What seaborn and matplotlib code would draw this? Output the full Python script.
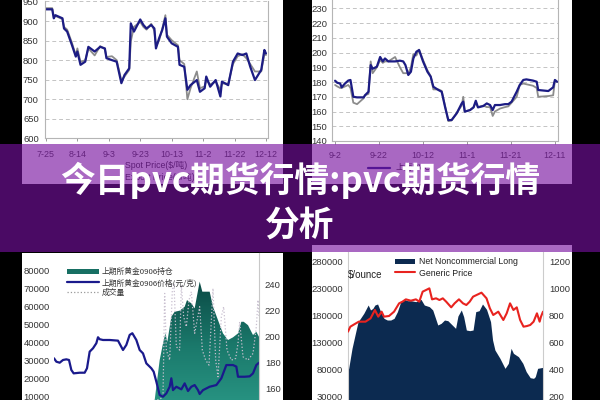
import numpy as np
import matplotlib
matplotlib.use("Agg")
import matplotlib.pyplot as plt
from matplotlib.patches import Rectangle
from matplotlib.lines import Line2D
from matplotlib.colors import LinearSegmentedColormap
import seaborn as sns

# ---- top left: spot price ($/吨), two series ----
tl_days = [0, 4, 5, 6, 10.5, 11.5, 13.5, 16.5, 19, 20, 22, 25, 27, 31, 34.5, 37.5, 38.5, 42, 45, 48,
           50, 53, 54, 56, 60, 62, 64, 67, 69, 70, 72, 74, 76, 77, 80, 84, 85, 88, 90, 92,
           96, 98, 101, 102, 104.5, 108, 111, 112, 116, 119, 122, 125, 127.5, 130, 133, 137, 139, 140]
tl_blue = [930, 930, 907, 915, 907, 881, 873, 839, 809, 822, 788, 796, 834, 822, 834, 830, 805, 800, 796, 741,
           762, 779, 894, 873, 904, 890, 881, 890, 881, 830, 856, 877, 907, 860, 843, 834, 788, 783, 724, 736,
           749, 719, 728, 758, 732, 749, 707, 745, 736, 796, 817, 813, 817, 783, 749, 775, 826, 817]
tl_gray = [933, 933, 910, 913, 905, 885, 878, 845, 812, 830, 795, 800, 830, 812, 836, 828, 808, 810, 800, 748,
           758, 775, 848, 885, 898, 885, 878, 893, 875, 835, 850, 880, 915, 865, 851, 838, 800, 790, 700, 728,
           771, 728, 733, 748, 738, 745, 724, 740, 740, 790, 810, 815, 805, 790, 771, 771, 815, 813]
tl_tick_days = [0, 20, 40, 60, 80, 100, 120, 140]
tl_tick_labels = ['7-25', '8-14', '9-3', '9-23', '10-13', '11-2', '11-22', '12-12']

# ---- top right ----
tr_days = [0, 1, 2.3, 3, 4.5, 6, 7, 8.3, 10, 13, 13.6, 15.2, 16.2, 17.1, 19, 20.5, 21.7, 22.7, 24.2, 27.3,
           29.5, 31, 32, 33.3, 34.5, 35.6, 37, 38.2, 40, 42, 43.5, 44.7, 47, 48.5, 50, 51.5, 53, 55.3, 57.6, 58.3,
           59, 61.4, 63, 64, 65, 67.4, 69, 70.5, 71.7, 72.7, 75, 77.3, 78.8, 80.3, 82.6, 84, 85.6, 87, 90, 91.7,
           92.4, 97, 99.2, 100, 101]
tr_blue = [180.9, 179.5, 179, 176.4, 179, 181, 181.4, 170, 169.6, 169.6, 171, 173.4, 191.5, 189, 190.4, 197, 194, 196, 194, 194,
           194.5, 194, 191.5, 184.8, 187, 196, 200.6, 201.7, 194, 187, 183.6, 176.8, 174.6, 173.4, 163.3, 154.2, 154.2, 158.7, 165.5, 166.7,
           159.9, 161, 162.8, 167.3, 162.8, 163.7, 165.5, 164.4, 161, 164.4, 164.4, 165, 165, 166.7, 173.4, 178, 181.4, 181.8, 181, 180.2,
           174.6, 173.9, 176.4, 181.4, 180.2]
tr_gray = [178, 177, 176, 176, 177, 178, 176, 166, 165, 169, 171, 172, 194, 186, 190, 195, 193, 194, 194, 197,
           190, 186, 186, 186, 190, 199, 198, 202, 195, 188, 184, 175, 175, 174, 164, 153.5, 154, 159, 164, 170,
           160, 161, 163, 166, 163, 164, 163, 163, 157, 160, 162, 163, 163.5, 166, 170, 178, 179, 178.5, 177.5, 176,
           170, 170.5, 171, 181, 180]
tr_tick_days = [0, 20, 40, 60, 80, 100]
tr_tick_labels = ['9-2', '9-22', '10-12', '11-1', '11-21', '12-11']

# ---- bottom left: 上期所黄金0906 ----
bl_price_x = [0, 1.4, 3.4, 5.4, 7.4, 9, 10.4, 11.8, 15.4, 18.4, 19.8, 21.4, 23.4, 25.4, 26.4, 27.4, 29.4, 33.4, 38.4, 41.4,
              43.4, 45.4, 47, 49.4, 51.4, 53.4, 55.4, 58.4, 59.8, 61.4, 63.4, 65.4, 67.4, 69.4, 70.4, 71.4, 73.4, 76.4, 78.4, 80.4,
              82.4, 84.4, 86.4, 87.4, 89.4, 93.4, 97.4, 100.4, 103.4, 107.4, 109.4, 110.4, 114.4, 117.4, 119.4, 121.4, 123]
bl_price = [182.9, 180.3, 179.5, 181.6, 182.1, 181.6, 173.9, 171.3, 171.8, 171.8, 175.2, 188, 190.6, 194.5, 199.1, 197.6, 197, 197, 196.5, 189.3,
            193.2, 200.9, 202.2, 197, 189.3, 186.7, 179, 175.2, 172.6, 164.9, 154.6, 153.3, 155.9, 161, 167.5, 158.4, 161, 159, 163.6, 157.7,
            161, 162.3, 158.4, 155.4, 158.4, 161, 162.3, 167.5, 177.7, 177.7, 176.5, 168.7, 168.7, 169, 171.3, 177.7, 179.5]
bl_oi_x = [60, 60.4, 63.4, 65.4, 66.8, 68, 70.4, 72.4, 75.4, 78.4, 79.8, 82.4, 84.4, 87.4, 89, 93.4, 95.4, 98.4, 101.4, 104.4,
           107.4, 110.4, 112.4, 113.8, 116.4, 119.4, 121.4, 123]
bl_oi = [0, 7750, 30100, 39400, 45000, 40300, 54300, 57100, 57700, 59900, 63600, 61800, 59000, 73900, 68300, 68300, 59900, 52400, 45000, 41300,
         42800, 45000, 51500, 51500, 49600, 44100, 45900, 43100]
bl_vol_x = [60, 63.4, 65.4, 66.4, 67.4, 69.4, 71, 72, 73.4, 75.4, 76.4, 77.8, 79.4, 81, 82.4, 84.4, 87.4, 89, 91, 93,
            95.4, 97, 98.4, 100.4, 101.8, 103.8, 106.4, 109, 110.4, 111.4, 113.4, 116.4, 119.4, 121.4, 122.4, 123]
bl_vol = [7750, 8130, 9620, 67340, 35680, 30100, 69200, 72920, 37550, 35680, 72000, 54300, 48720, 63610, 68270, 45000, 59890, 35680, 30100, 27300,
          70130, 30100, 20790, 54300, 59890, 35680, 30100, 31030, 39410, 51510, 31960, 30100, 33820, 48720, 63610, 54300]

# ---- bottom right: net noncommercial long vs generic price ----
br_long_x = [0, 0.4, 2.4, 4.4, 6, 7.4, 9.4, 12, 13.4, 14.8, 16, 17.6, 19.4, 21.4, 23.4, 25.4, 27.4, 29.4, 31.4, 33.4,
             35.4, 37.4, 40.4, 43.4, 45.4, 48.4, 50.4, 53.4, 55.4, 57.4, 59.4, 61.4, 64, 65.4, 67.4, 68.8, 70.4, 72.4, 74.4, 76,
             78, 80, 82.4, 84.8, 86, 87.4, 90.4, 93.4, 95.4, 97, 98.4, 101.4, 104, 106, 108.4, 110.4, 111.4, 112.8, 116]
br_long = [80000, 81200, 118300, 146000, 167700, 173800, 183100, 198500, 189300, 192300, 198500, 200400, 186200, 173800, 170700, 170700, 173800, 186200, 204700, 209000,
           206500, 206500, 204700, 209000, 198500, 195400, 189300, 161500, 164600, 170700, 169500, 163300, 155300, 178100, 189300, 176900, 152200, 151000, 152200, 186200,
           188000, 200400, 190500, 167700, 133700, 115200, 99700, 81200, 90500, 118300, 109000, 102800, 90500, 75100, 63900, 62700, 65800, 81200, 83100]
br_price_x = [0, 1.4, 4, 6.4, 10.4, 13.4, 16, 18, 20, 21.4, 24.4, 27.4, 30.4, 32.4, 34.4, 37.4, 40.4, 42.4, 44.4, 46.4,
              48.4, 50, 52.4, 54.4, 56.4, 58.4, 61.4, 63.4, 66, 68.4, 70.4, 72.4, 74.4, 79.4, 82.4, 84.4, 86.4, 89.4, 92.4, 94.4,
              96.4, 98.4, 100.4, 102.4, 104.4, 106.4, 108.4, 110.4, 112.4, 114, 114.8, 116]
br_price = [676.6, 713.6, 733, 750.6, 750.6, 775, 837, 787.7, 824.7, 787.7, 792.6, 824.7, 886.4, 898.8, 916, 906, 916, 898.8, 972.8, 985,
            997.5, 916, 923.5, 911, 923.5, 898.8, 856.8, 886.4, 916, 886.4, 874, 898.8, 935.8, 965.5, 923.5, 849.4, 800, 824.7, 763, 812.4,
            886.4, 837, 856.8, 763, 713.6, 718, 726, 750.6, 812.4, 750.6, 787.7, 824.7]

title_line1 = '今日pvc期货行情:pvc期货行情'
title_line2 = '分析'

W, H = 600, 400


def box(x0, y0, x1, y1):
    # pixel box (top-left origin) -> figure fraction rect
    return [x0 / W, 1 - y1 / H, (x1 - x0) / W, (y1 - y0) / H]


def fy(y):
    return 1 - y / H


sns.set_style("white")
plt.rcParams['font.family'] = ['Liberation Sans', 'Noto Sans CJK SC', 'DejaVu Sans']

fig = plt.figure(figsize=(6, 4), dpi=100, facecolor='black')

# white panels behind the four charts
for x0, y0, x1, y1 in [(22, 0, 283, 184), (312, 0, 572, 184), (22, 253, 283, 400), (312, 245, 572, 400)]:
    fig.add_artist(Rectangle((x0 / W, fy(y1)), (x1 - x0) / W, (y1 - y0) / H, transform=fig.transFigure,
                             facecolor='white', edgecolor='none', zorder=-2))


def style_top(ax, ypad, xpad):
    ax.set_facecolor('white')
    ax.grid(axis='y', color='#c4c4c4', linestyle=(0, (4, 3)), linewidth=0.7)
    ax.grid(axis='x', visible=False)
    for side in ['left', 'bottom', 'right']:
        ax.spines[side].set_color('#b5b5b5')
        ax.spines[side].set_linewidth(0.8)
    ax.spines['top'].set_visible(False)
    ax.tick_params(axis='y', length=0, pad=ypad, labelsize=6.8, labelcolor='#333333')
    ax.tick_params(axis='x', bottom=True, length=2.5, width=0.7, color='#999999', pad=xpad,
                   labelsize=6.4, labelcolor='#444444')
    ax.set_xlabel('')
    ax.set_ylabel('')


# top left
ax_tl = fig.add_axes(box(45, 1.5, 268, 138.3))
sns.lineplot(x=tl_days, y=tl_gray, ax=ax_tl, color='#8c8c8c', linewidth=1.3)
sns.lineplot(x=tl_days, y=tl_blue, ax=ax_tl, color='#1c1c84', linewidth=1.6)
ax_tl.set_xlim(-0.6, 141.3)
ax_tl.set_ylim(600, 950)
ax_tl.set_yticks(range(600, 951, 50))
ax_tl.set_xticks(tl_tick_days, tl_tick_labels)
style_top(ax_tl, 4.5, 6)

# top right
ax_tr = fig.add_axes(box(332, -6.4, 558, 141))
sns.lineplot(x=tr_days, y=tr_gray, ax=ax_tr, color='#8c8c8c', linewidth=1.3)
sns.lineplot(x=tr_days, y=tr_blue, ax=ax_tr, color='#1c1c84', linewidth=1.6)
ax_tr.set_xlim(-1.4, 101.4)
ax_tr.set_ylim(140, 240)
ax_tr.set_yticks(range(140, 241, 10))
ax_tr.set_xticks(tr_tick_days, tr_tick_labels)
style_top(ax_tr, 3.6, 5)

# bottom left
ax_bl = fig.add_axes(box(54, 253, 259, 414))
ax_bl.set_facecolor('white')
poly = ax_bl.fill_between(bl_oi_x, bl_oi, 0, color='#176f63', linewidth=0)
teal = LinearSegmentedColormap.from_list('teal', ['#2a9886', '#1b7a6c', '#0b4a45'])
grad = np.linspace(0, 1, 256).reshape(-1, 1)
im = ax_bl.imshow(grad, extent=[bl_oi_x[0], bl_oi_x[-1], 0, max(bl_oi)], origin='lower',
                  aspect='auto', cmap=teal, zorder=1)
im.set_clip_path(poly.get_paths()[0], transform=ax_bl.transData)
poly.set_visible(False)
sns.lineplot(x=bl_vol_x, y=bl_vol, ax=ax_bl, color='#c9c0d0', linewidth=0.9, linestyle=':')
ax_bl.set_xlim(0, 123)
ax_bl.set_ylim(0, 89900)
ax_bl.set_yticks(range(0, 80001, 10000))
ax_bl.set_xticks([])
ax_bl.tick_params(axis='y', length=0, pad=3, labelsize=6.8, labelcolor='#333333')
for side in ['left', 'top', 'bottom', 'right']:
    ax_bl.spines[side].set_visible(False)
ax_bl2 = ax_bl.twinx()
sns.lineplot(x=bl_price_x, y=bl_price, ax=ax_bl2, color='#1a1a8c', linewidth=1.6)
ax_bl2.set_ylim(140, 264)
ax_bl2.set_yticks(range(160, 241, 20))
ax_bl2.tick_params(axis='y', length=0, pad=4.3, labelsize=6.8, labelcolor='#333333')
for side in ['left', 'top', 'bottom']:
    ax_bl2.spines[side].set_visible(False)
ax_bl2.spines['right'].set_color('#c8c8c8')
ax_bl2.spines['right'].set_linewidth(0.8)
ax_bl.set_xlabel('')
ax_bl.set_ylabel('')
ax_bl2.set_ylabel('')

# bottom left legend
fig.add_artist(Rectangle((67 / W, fy(274)), 32 / W, 4.7 / H, transform=fig.transFigure,
                         facecolor='#176f63', edgecolor='none', zorder=3))
fig.add_artist(Line2D([67 / W, 99 / W], [fy(282), fy(282)], color='#1a1a8c', linewidth=1.6, zorder=3))
fig.add_artist(Line2D([67 / W, 99 / W], [fy(292), fy(292)], color='#999999', linewidth=0.9,
                      linestyle=':', zorder=3))
leg_font = ['Noto Sans CJK SC', 'DejaVu Sans']
fig.text(102 / W, fy(272), '上期所黄金0906持仓', fontsize=5.6, color='#333333', va='center', family=leg_font)
fig.text(102 / W, fy(283), '上期所黄金0906价格(元/克)', fontsize=5.6, color='#333333', va='center', family=leg_font)
fig.text(102 / W, fy(293), '成交量', fontsize=5.6, color='#333333', va='center', family=leg_font)

# bottom right
ax_br = fig.add_axes(box(348, 252, 543, 423))
ax_br.set_facecolor('white')
ax_br.fill_between(br_long_x, br_long, -20000, color='#0c2a50', linewidth=0)
ax_br.set_xlim(0, 116)
ax_br.set_ylim(-20000, 296700)
ax_br.set_yticks(range(30000, 280001, 50000))
ax_br.set_xticks([])
ax_br.tick_params(axis='y', length=0, pad=3.6, labelsize=6.8, labelcolor='#333333')
for side in ['top', 'bottom', 'right']:
    ax_br.spines[side].set_visible(False)
ax_br.spines['left'].set_color('#cccccc')
ax_br.spines['left'].set_linewidth(0.8)
ax_br2 = ax_br.twinx()
sns.lineplot(x=br_price_x, y=br_price, ax=ax_br2, color='#e8231f', linewidth=1.5)
ax_br2.set_ylim(0, 1266.7)
ax_br2.set_yticks(range(200, 1201, 200))
ax_br2.tick_params(axis='y', length=0, pad=4.3, labelsize=6.8, labelcolor='#333333')
for side in ['left', 'top', 'bottom']:
    ax_br2.spines[side].set_visible(False)
ax_br2.spines['right'].set_color('#cccccc')
ax_br2.spines['right'].set_linewidth(0.8)
ax_br.set_xlabel('')
ax_br.set_ylabel('')
ax_br2.set_ylabel('')

fig.text(348 / W, fy(275), '$/ounce', fontsize=7, color='#222222', va='center')
fig.add_artist(Rectangle((395 / W, fy(263.5)), 20 / W, 4.5 / H, transform=fig.transFigure,
                         facecolor='#0c2a50', edgecolor='none', zorder=3))
fig.text(419 / W, fy(261), 'Net Noncommercial Long', fontsize=6.3, color='#222222', va='center')
fig.add_artist(Line2D([395 / W, 415 / W], [fy(272), fy(272)], color='#e8231f', linewidth=1.5, zorder=3))
fig.text(419 / W, fy(273), 'Generic Price', fontsize=6.3, color='#222222', va='center')

# top chart legends (mostly hidden under the banner)
fig.text(125 / W, fy(166), 'Spot Price($/吨)', fontsize=6.3, color='#333333', va='center')
fig.text(125 / W, fy(177), 'Export Price($/吨)', fontsize=6.3, color='#333333', va='center')
fig.add_artist(Line2D([368 / W, 390 / W], [fy(168), fy(168)], color='#1c1c84', linewidth=1.6, zorder=3))
fig.text(395 / W, fy(167), '上海PVC', fontsize=6.3, color='#333333', va='center')

# translucent purple banner
fig.add_artist(Rectangle((0, fy(252)), 1, (252 - 144) / H, transform=fig.transFigure,
                         facecolor='#77109f', edgecolor='none', alpha=0.63, zorder=5))

title_font = ['Noto Sans CJK SC', 'DejaVu Sans']
fig.text(0.5, fy(192), title_line1, ha='center', va='baseline', fontsize=25, fontweight='bold',
         color='white', family=title_font, zorder=6)
fig.text(0.5, fy(237), title_line2, ha='center', va='baseline', fontsize=25, fontweight='bold',
         color='white', family=title_font, zorder=6)

fig.savefig('out.png', dpi=100, facecolor='black')
